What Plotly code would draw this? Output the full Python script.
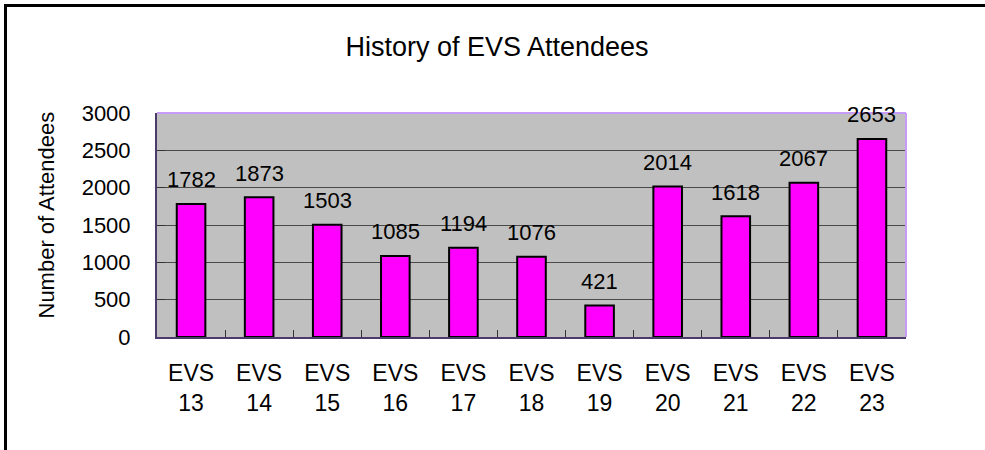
import plotly.graph_objects as go

categories = ["EVS<br>13", "EVS<br>14", "EVS<br>15", "EVS<br>16", "EVS<br>17", "EVS<br>18",
              "EVS<br>19", "EVS<br>20", "EVS<br>21", "EVS<br>22", "EVS<br>23"]
attendees = [1782, 1873, 1503, 1085, 1194, 1076, 421, 2014, 1618, 2067, 2653]
y_ticks = [0, 500, 1000, 1500, 2000, 2500, 3000]
title_text = "History of EVS Attendees"
y_title = "Number of Attendees"

FONT = "Liberation Sans, Arial, sans-serif"
W, H = 985, 450
L, R, T, B = 157, 79, 113, 113
pw, ph = W - L - R, H - T - B

fig = go.Figure()
fig.add_trace(go.Bar(
    x=categories, y=attendees, width=0.42,
    marker=dict(color="#FF00FF", line=dict(color="black", width=2)),
    hoverinfo="x+y",
))

for c, v in zip(categories, attendees):
    fig.add_annotation(x=c, y=v, text=str(v), showarrow=False, yshift=24,
                       yanchor="middle", xanchor="center",
                       font=dict(family=FONT, size=22, color="black"))

# y-axis title
fig.add_annotation(xref="paper", yref="paper", x=(46 - L) / pw, y=(H - B - 215.5) / ph,
                   text=y_title, textangle=-90, showarrow=False,
                   xanchor="center", yanchor="middle",
                   font=dict(family=FONT, size=22, color="black"))

def px_x(p):
    return (p - L) / pw

def px_y(p):
    return (H - B - p) / ph

# plot area top/right border (light purple)
fig.add_shape(type="line", xref="paper", yref="paper", x0=0, x1=1, y0=1, y1=1,
              line=dict(color="#C89BFA", width=2))
fig.add_shape(type="line", xref="paper", yref="paper", x0=1, x1=1, y0=0, y1=1,
              line=dict(color="#C89BFA", width=2))
# outer chart frame (only top and left edges are visible in the crop)
fig.add_shape(type="line", xref="paper", yref="paper",
              x0=px_x(4), x1=px_x(W + 20), y0=px_y(5.5), y1=px_y(5.5),
              line=dict(color="black", width=3), layer="above")
fig.add_shape(type="line", xref="paper", yref="paper",
              x0=px_x(5.5), x1=px_x(5.5), y0=px_y(4), y1=px_y(H + 20),
              line=dict(color="black", width=3), layer="above")

fig.update_layout(
    width=W, height=H,
    margin=dict(l=L, r=R, t=T, b=B, autoexpand=False),
    paper_bgcolor="white", plot_bgcolor="#C0C0C0",
    showlegend=False,
    title=dict(text=title_text, x=497 / W, xanchor="center", xref="container",
               y=1 - 47 / H, yanchor="middle", yref="container",
               font=dict(family=FONT, size=27, color="black")),
    font=dict(family=FONT, color="black"),
    xaxis=dict(
        type="category", showgrid=False, showline=True, linecolor="#4B3A6B", linewidth=2,
        ticks="inside", tickson="boundaries", ticklen=7, tickcolor="#333333", tickwidth=1,
        tickfont=dict(family=FONT, size=23, color="black"), ticklabelstandoff=14,
        zeroline=False,
    ),
    yaxis=dict(
        range=[0, 3000], tickvals=y_ticks, ticktext=[str(t) for t in y_ticks],
        showgrid=True, gridcolor="#4A4A4A", gridwidth=1,
        showline=True, linecolor="#4B3A6B", linewidth=2,
        ticks="inside", ticklen=8, tickcolor="#333333", tickwidth=1,
        tickfont=dict(family=FONT, size=22, color="black"), ticklabelstandoff=20,
        zeroline=False,
    ),
)

fig.write_html(
    "out.html",
    config={"displayModeBar": False},
    post_script="document.body.style.margin='0';document.body.style.overflow='hidden';",
)
